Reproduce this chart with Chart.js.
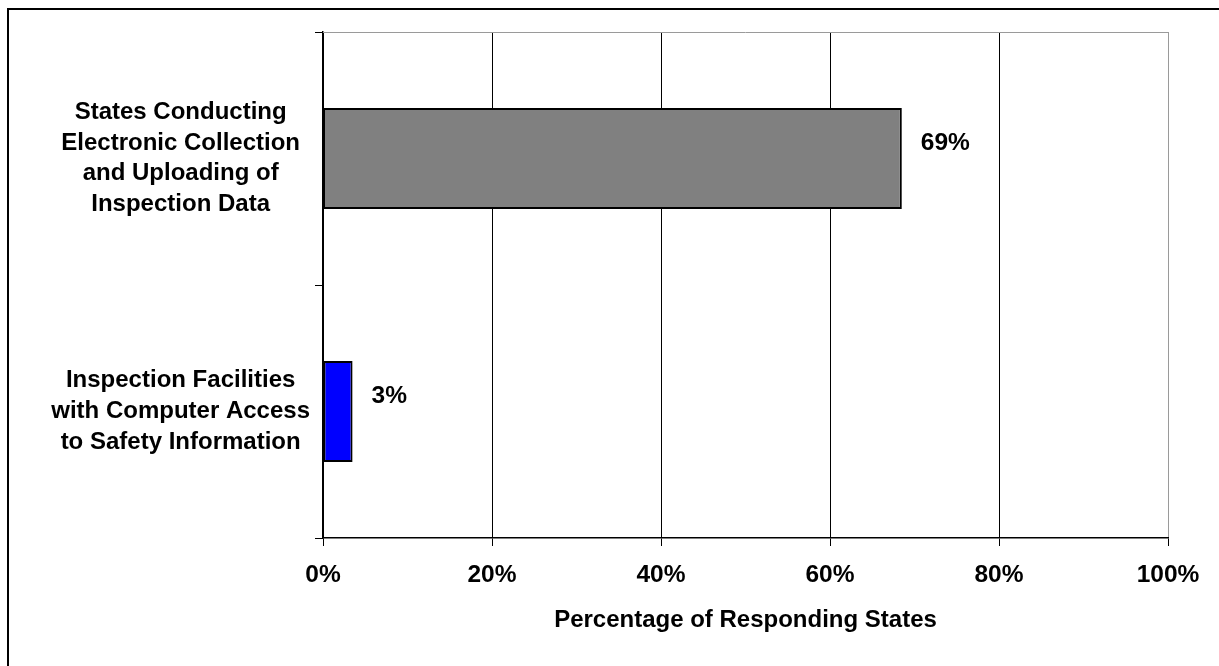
<!DOCTYPE html>
<html>
<head>
<meta charset="utf-8">
<script src="https://cdn.jsdelivr.net/npm/chart.js@4/dist/chart.umd.min.js"></script>
<style>
  html, body { margin: 0; padding: 0; background: #fff; overflow: hidden; }
  #wrap { position: absolute; left: 0; top: 0; width: 1219px; height: 666px; }
  #frame { position: absolute; left: 7px; top: 8px; width: 1400px; height: 900px;
           border-left: 2px solid #000; border-top: 2px solid #000; box-sizing: border-box; }
  canvas { position: absolute; left: 0; top: 0; }
</style>
</head>
<body>
<div id="wrap">
  <div id="frame"></div>
  <canvas id="c" width="1219" height="666"></canvas>
</div>
<script>
// ---- data ----
const categories = [
  ["States Conducting", "Electronic Collection", "and Uploading of", "Inspection Data"],
  ["Inspection Facilities", "with Computer Access", "to Safety Information"]
];
const values = [68.5, 3.5];
const valueLabels = ["69%", "3%"];
const xTickValues = [0, 20, 40, 60, 80, 100];
const axisTitle = "Percentage of Responding States";

// ---- styles ----
const FONT = '"Liberation Sans", Arial, Helvetica, sans-serif';
const barFill = ['#808080', '#0000FF'];

const valueLabelPlugin = {
  id: 'valueLabels',
  afterDatasetsDraw(chart) {
    const ctx = chart.ctx;
    const meta = chart.getDatasetMeta(0);
    ctx.save();
    ctx.font = 'bold 24.5px ' + FONT;
    ctx.fillStyle = '#000';
    ctx.textAlign = 'left';
    ctx.textBaseline = 'middle';
    meta.data.forEach((bar, i) => {
      ctx.fillText(valueLabels[i], bar.x + 19, bar.y - 15);
    });
    ctx.restore();
  }
};

const topBorderPlugin = {
  id: 'topBorder',
  beforeDatasetsDraw(chart) {
    const { ctx, chartArea } = chart;
    ctx.save();
    ctx.strokeStyle = '#9a9a9a';
    ctx.lineWidth = 1;
    ctx.beginPath();
    ctx.moveTo(chartArea.left, chartArea.top + 0.5);
    ctx.lineTo(chartArea.right, chartArea.top + 0.5);
    ctx.stroke();
    ctx.restore();
  }
};

new Chart(document.getElementById('c'), {
  type: 'bar',
  data: {
    labels: categories,
    datasets: [{
      data: values,
      backgroundColor: barFill,
      borderColor: '#000',
      borderWidth: 2,
      borderSkipped: false,
      barPercentage: 0.4,
      categoryPercentage: 1.0
    }]
  },
  options: {
    indexAxis: 'y',
    responsive: false,
    animation: false,
    devicePixelRatio: 1,
    layout: { padding: { top: 32, right: 51, bottom: 0, left: 0 } },
    plugins: {
      legend: { display: false },
      tooltip: { enabled: false }
    },
    scales: {
      x: {
        min: 0,
        max: 100,
        afterBuildTicks(scale) {
          scale.ticks = xTickValues.map(v => ({ value: v }));
        },
        afterFit(scale) { scale.height = 128; },
        grid: {
          color: (c) => (c.tick && c.tick.value === 100) ? '#9a9a9a' : '#000',
          tickColor: '#000',
          lineWidth: 1,
          tickLength: 8,
          drawTicks: true
        },
        border: { color: '#000', width: 1.5 },
        ticks: {
          color: '#000',
          font: { family: FONT, size: 24.5, weight: 'bold' },
          padding: 15,
          maxRotation: 0,
          callback: (v) => v + '%'
        },
        title: {
          display: true,
          text: axisTitle,
          color: '#000',
          font: { family: FONT, size: 24, weight: 'bold' },
          padding: { top: 0, bottom: 31 }
        }
      },
      y: {
        afterFit(scale) {
          scale.width = 323;
          scale.paddingTop = 0;
          scale.paddingBottom = 0;
        },
        grid: {
          offset: true,
          drawOnChartArea: false,
          drawTicks: true,
          tickLength: 8,
          color: '#000'
        },
        border: { color: '#000', width: 1.5 },
        ticks: {
          color: '#000',
          crossAlign: 'center',
          padding: 5,
          font: { family: FONT, size: 24, weight: 'bold', lineHeight: 1.28 }
        }
      }
    }
  },
  plugins: [valueLabelPlugin, topBorderPlugin]
});
</script>
</body>
</html>
